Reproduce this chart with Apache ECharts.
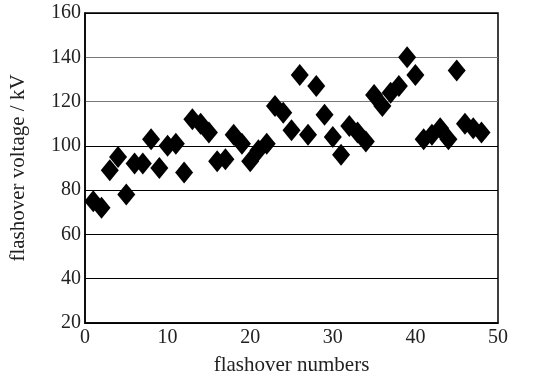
<!DOCTYPE html>
<html>
<head>
<meta charset="utf-8">
<script src="https://cdn.jsdelivr.net/npm/echarts@6/dist/echarts.min.js"></script>
<style>
  html, body { margin: 0; padding: 0; background: #fff; }
  #chart { width: 536px; height: 375px; }
</style>
</head>
<body>
<div id="chart"></div>
<script>
// flashover number (x) and flashover voltage in kV (y)
const flashoverNumbers = [
  1, 2, 3, 4, 5, 6, 7, 8, 9, 10, 11, 12, 13, 14, 15, 16,
  17, 18, 19, 20, 21, 22, 23, 24, 25, 26, 27, 28, 29, 30, 31, 32,
  33, 34, 35, 36, 37, 38, 39, 40, 41, 42, 43, 44, 45, 46, 47, 48
]
const flashoverVoltage = [
  75, 72, 89, 95, 78, 92, 92, 103, 90, 100, 101, 88, 112, 110, 106, 93,
  94, 105, 101, 93, 98, 101, 118, 115, 107, 132, 105, 127, 114, 104, 96, 109,
  106, 102, 123, 118, 124, 127, 140, 132, 103, 105, 108, 103, 134, 110, 108, 106
]

const FONT = '"Liberation Serif", "DejaVu Serif", serif'

const chart = echarts.init(document.getElementById('chart'), null, { renderer: 'canvas' })

const option = {
  animation: false,
  backgroundColor: '#fff',
  grid: {
    left: 85, right: 38, top: 13, bottom: 52,
    outerBoundsMode: 'none',
    containLabel: false,
    show: true, borderColor: '#000', borderWidth: 1.5,
  },
  xAxis: {
    type: 'value',
    min: 0,
    max: 50,
    interval: 10,
    name: 'flashover numbers',
    nameLocation: 'middle',
    nameGap: 32,
    nameTextStyle: { fontFamily: FONT, fontSize: 21, color: '#222' },
    axisLine: { show: true, lineStyle: { color: '#000', width: 1.5 } },
    axisTick: { show: false },
    axisLabel: { fontFamily: FONT, fontSize: 20, color: '#222', margin: 5 },
    splitLine: { show: false },
  },
  yAxis: {
    type: 'value',
    min: 20,
    max: 160,
    interval: 20,
    name: 'flashover voltage / kV',
    nameLocation: 'middle',
    nameGap: 56,
    nameTextStyle: { fontFamily: FONT, fontSize: 21, color: '#222' },
    axisLine: { show: true, lineStyle: { color: '#000', width: 1.5 } },
    axisTick: { show: false },
    axisLabel: { fontFamily: FONT, fontSize: 20, color: '#222', margin: 4 },
    splitLine: {
      show: true,
      lineStyle: {
        color: ['#000', '#000', '#000', '#000', '#000', '#777', '#777', '#000'],
        width: 1,
      },
    },
  },
  series: [
    {
      type: 'scatter',
      symbol: 'diamond',
      symbolSize: [18, 22],
      itemStyle: { color: '#000', opacity: 1 },
      data: flashoverNumbers.map((n, i) => [n, flashoverVoltage[i]]),
    },
  ],
}

chart.setOption(option)
</script>
</body>
</html>
